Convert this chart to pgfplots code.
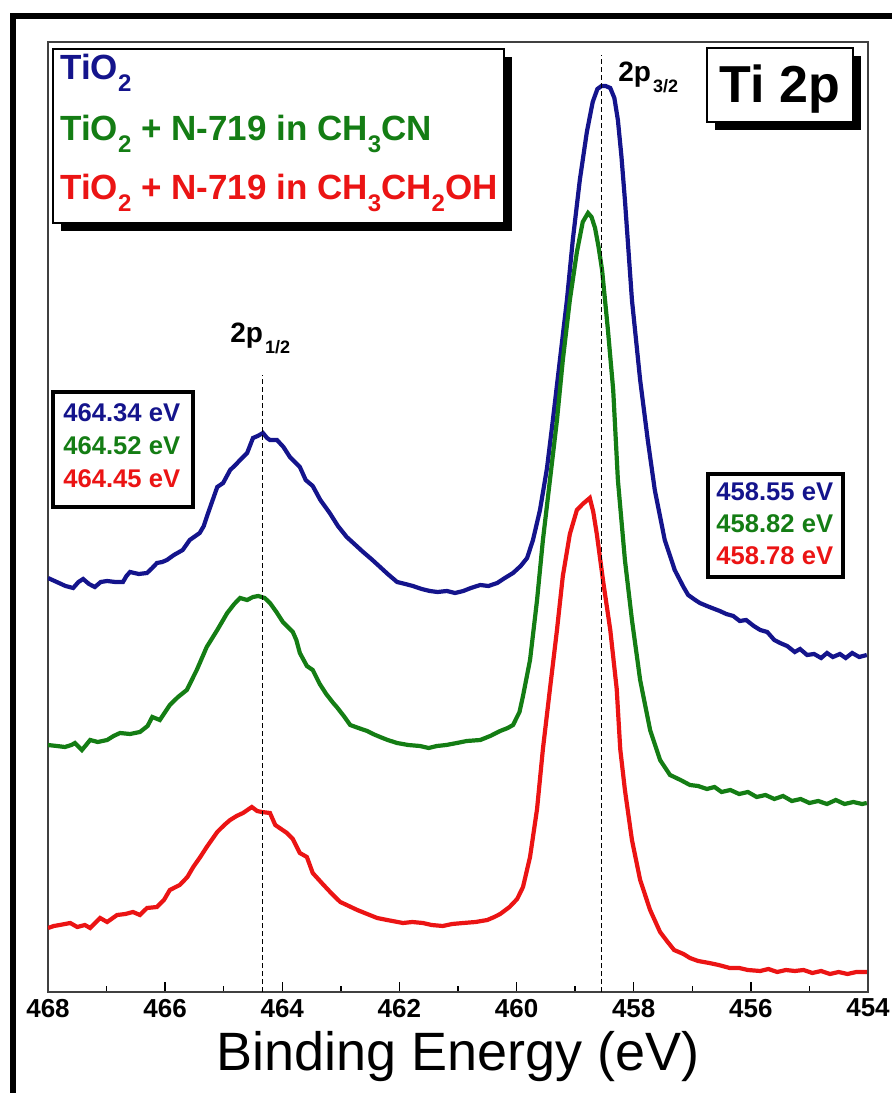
\documentclass[border=0pt]{standalone}
\usepackage{fontspec}
\setmainfont{Liberation Sans}
\usepackage{pgfplots}
\pgfplotsset{compat=1.18}
\definecolor{cblue}{RGB}{20,20,140}
\definecolor{cgreen}{RGB}{20,125,20}
\definecolor{cred}{RGB}{235,20,20}
\newcommand{\sub}[1]{\raisebox{-0.32em}{\fontsize{12}{12}\selectfont #1}}
\begin{document}
\begin{tikzpicture}
\path[use as bounding box] (-24pt,-50.5pt) rectangle (421.5pt,496pt);
\begin{axis}[
  at={(0pt,0pt)}, anchor=south west,
  scale only axis, width=410pt, height=475pt,
  xmin=454, xmax=468, ymin=0, ymax=950, x dir=reverse,
  xtick={454,456,...,468}, minor x tick num=1, ytick=\empty,
  xtick pos=left, tick align=inside,
  major tick length=5pt, minor tick length=3pt,
  axis line style={draw=black!75, line width=0.7pt},
  every tick/.style={black, line width=0.7pt},
  tick label style={font=\bfseries\fontsize{13}{13}\selectfont},
  /pgf/number format/assume math mode=true,
  xlabel={Binding Energy (eV)},
  xlabel style={font=\fontsize{27}{27}\selectfont, at={(axis description cs:0.5,0)}, anchor=base, yshift=-39pt},
]
% TiO2
\addplot[cblue, line width=2.1pt] coordinates {
(468.00,414) (467.85,410) (467.70,406) (467.57,404) (467.48,410) (467.40,413) (467.30,408) (467.20,405) (467.10,410) (466.99,411) (466.85,410) (466.72,410) (466.66,416) (466.60,420) (466.45,418) (466.31,419) (466.22,424) (466.14,429) (466.05,430) (465.97,432) (465.85,437) (465.70,442) (465.58,452) (465.41,459) (465.34,466) (465.29,475) (465.20,490) (465.11,505) (465.01,509) (464.89,522) (464.80,527) (464.72,532) (464.60,539) (464.50,554) (464.42,556) (464.33,559) (464.26,554) (464.21,552) (464.09,552) (463.98,545) (463.87,535) (463.70,525) (463.60,512) (463.48,506) (463.35,492) (463.19,479) (463.05,466) (462.90,455) (462.75,447) (462.62,440) (462.48,433) (462.33,425) (462.20,418) (462.04,410) (461.90,408) (461.77,406) (461.62,403) (461.48,401) (461.35,400) (461.19,401) (461.05,399) (460.91,401) (460.78,404) (460.62,407) (460.48,406) (460.33,409) (460.20,414) (460.06,419) (459.93,426) (459.82,434) (459.72,452) (459.60,482) (459.48,524) (459.38,572) (459.26,632) (459.14,692) (459.04,752) (458.92,812) (458.80,860) (458.70,890) (458.62,903) (458.55,906) (458.48,906) (458.40,904) (458.33,894) (458.27,872) (458.21,836) (458.15,792) (458.03,692) (457.89,612) (457.76,552) (457.64,502) (457.47,452) (457.30,422) (457.15,405) (457.07,397) (456.95,392) (456.87,389) (456.75,386) (456.62,383) (456.53,381) (456.42,378) (456.30,376) (456.19,371) (456.08,372) (455.95,366) (455.84,362) (455.72,360) (455.60,352) (455.50,349) (455.38,346) (455.25,340) (455.16,343) (455.04,337) (454.92,338) (454.80,334) (454.70,339) (454.60,335) (454.48,338) (454.38,334) (454.27,339) (454.15,335) (454.02,337)
};
% TiO2 + N-719 in CH3CN
\addplot[cgreen, line width=2.1pt] coordinates {
(468.00,247) (467.85,246) (467.71,245) (467.60,247) (467.54,249) (467.42,242) (467.28,252) (467.15,250) (466.99,252) (466.88,256) (466.77,259) (466.60,258) (466.43,260) (466.30,266) (466.22,275) (466.09,272) (465.92,287) (465.78,295) (465.63,302) (465.46,322) (465.29,345) (465.11,362) (464.94,379) (464.82,388) (464.72,394) (464.60,392) (464.50,395) (464.41,396) (464.30,394) (464.21,389) (464.10,380) (463.99,370) (463.82,360) (463.76,352) (463.70,339) (463.58,326) (463.48,322) (463.36,308) (463.25,298) (463.13,289) (463.07,285) (462.95,276) (462.84,267) (462.70,264) (462.55,261) (462.45,258) (462.33,255) (462.20,252) (462.04,249) (461.85,247) (461.65,246) (461.50,244) (461.36,246) (461.20,247) (461.02,249) (460.85,251) (460.62,252) (460.45,256) (460.28,261) (460.15,264) (460.06,267) (459.95,280) (459.89,296) (459.77,332) (459.65,392) (459.55,452) (459.43,512) (459.31,572) (459.21,632) (459.09,692) (458.97,740) (458.87,770) (458.78,779) (458.72,775) (458.66,764) (458.60,745) (458.54,722) (458.44,662) (458.35,602) (458.27,512) (458.15,432) (458.03,372) (457.89,312) (457.72,262) (457.55,232) (457.38,217) (457.20,212) (457.04,207) (456.90,206) (456.75,203) (456.62,205) (456.50,200) (456.35,202) (456.20,198) (456.05,200) (455.90,195) (455.75,197) (455.60,193) (455.45,196) (455.30,191) (455.15,193) (455.00,189) (454.85,191) (454.70,188) (454.55,192) (454.40,188) (454.25,190) (454.10,188) (454.02,189)
};
% TiO2 + N-719 in CH3CH2OH
\addplot[cred, line width=2.1pt] coordinates {
(468.00,64) (467.90,66) (467.80,67) (467.62,69) (467.50,65) (467.37,67) (467.28,64) (467.11,74) (466.99,70) (466.82,77) (466.68,78) (466.55,80) (466.43,77) (466.31,84) (466.14,85) (466.02,92) (465.92,102) (465.75,107) (465.62,115) (465.52,125) (465.40,135) (465.29,145) (465.11,160) (464.99,167) (464.89,172) (464.78,176) (464.67,179) (464.52,185) (464.43,181) (464.35,180) (464.21,179) (464.12,167) (464.02,163) (463.92,159) (463.82,153) (463.70,139) (463.58,135) (463.48,119) (463.31,108) (463.15,98) (463.01,90) (462.90,87) (462.72,82) (462.55,78) (462.38,74) (462.21,72) (461.94,69) (461.78,70) (461.60,69) (461.45,67) (461.26,66) (461.10,68) (460.91,69) (460.70,70) (460.50,72) (460.38,75) (460.28,78) (460.12,85) (459.99,93) (459.89,105) (459.77,135) (459.65,183) (459.55,243) (459.43,303) (459.31,362) (459.21,416) (459.09,458) (458.97,482) (458.87,488) (458.75,494) (458.69,480) (458.63,458) (458.52,410) (458.40,362) (458.29,303) (458.23,243) (458.15,202) (458.03,152) (457.89,112) (457.72,82) (457.55,60) (457.42,50) (457.31,42) (457.15,38) (457.04,34) (456.90,31) (456.71,29) (456.55,27) (456.36,24) (456.20,24) (456.05,22) (455.84,21) (455.70,23) (455.55,20) (455.40,22) (455.25,21) (455.10,22) (454.95,19) (454.80,21) (454.65,18) (454.50,20) (454.35,18) (454.20,20) (454.02,20)
};
\addplot[black, line width=0.5pt, dash pattern=on 2.5pt off 1.5pt] coordinates {(464.34,0) (464.34,617)};
\addplot[black, line width=0.5pt, dash pattern=on 2.5pt off 1.5pt] coordinates {(458.55,0) (458.55,937)};
\end{axis}
% outer frame
\draw[line width=3.2pt] (-17.5pt,-60pt) -- (-17.5pt,488pt) -- (430pt,488pt);
% legend box
\fill[black] (6.5pt,467.5pt) rectangle (232pt,380.5pt);
\filldraw[fill=white, draw=black, line width=0.8pt] (2.5pt,471.5pt) rectangle (228pt,384.5pt);
\begin{scope}[every node/.style={anchor=base west, inner sep=0pt, font=\bfseries\fontsize{17.5}{17.5}\selectfont}]
\node[text=cblue] at (6pt,456pt) {TiO\sub{2}};
\node[text=cgreen] at (6pt,425.5pt) {TiO\sub{2} + N-719 in CH\sub{3}CN};
\node[text=cred] at (6pt,396pt) {TiO\sub{2} + N-719 in CH\sub{3}CH\sub{2}OH};
\end{scope}
% Ti 2p box
\fill[black] (333.5pt,468pt) rectangle (406.5pt,431pt);
\filldraw[fill=white, draw=black, line width=0.8pt] (329.5pt,472pt) rectangle (402.5pt,435pt);
\node[anchor=base, inner sep=0pt, font=\bfseries\fontsize{26}{26}\selectfont] at (366pt,444.5pt) {Ti 2p};
% peak value boxes
\draw[line width=2pt, fill=white] (2.5pt,300pt) rectangle (72.5pt,242.5pt);
\begin{scope}[every node/.style={anchor=base west, inner sep=0pt, font=\bfseries\fontsize{12.8}{12.8}\selectfont}]
\node[text=cblue] at (7.5pt,285pt) {464.34 eV};
\node[text=cgreen] at (7.5pt,268.5pt) {464.52 eV};
\node[text=cred] at (7.5pt,252pt) {464.45 eV};
\end{scope}
\draw[line width=2pt, fill=white] (330pt,259pt) rectangle (397.5pt,207.5pt);
\begin{scope}[every node/.style={anchor=base west, inner sep=0pt, font=\bfseries\fontsize{12.8}{12.8}\selectfont}]
\node[text=cblue] at (334pt,245.5pt) {458.55 eV};
\node[text=cgreen] at (334pt,229.5pt) {458.82 eV};
\node[text=cred] at (334pt,213.5pt) {458.78 eV};
\end{scope}
% peak labels
\node[anchor=base west, inner sep=0pt, font=\bfseries\fontsize{14}{14}\selectfont] at (285pt,455pt) {2p\hspace{1pt}\raisebox{-5.5pt}{\fontsize{9}{9}\selectfont 3/2}};
\node[anchor=base west, inner sep=0pt, font=\bfseries\fontsize{14}{14}\selectfont] at (91pt,324.5pt) {2p\hspace{1pt}\raisebox{-5.5pt}{\fontsize{9}{9}\selectfont 1/2}};
\end{tikzpicture}
\end{document}
